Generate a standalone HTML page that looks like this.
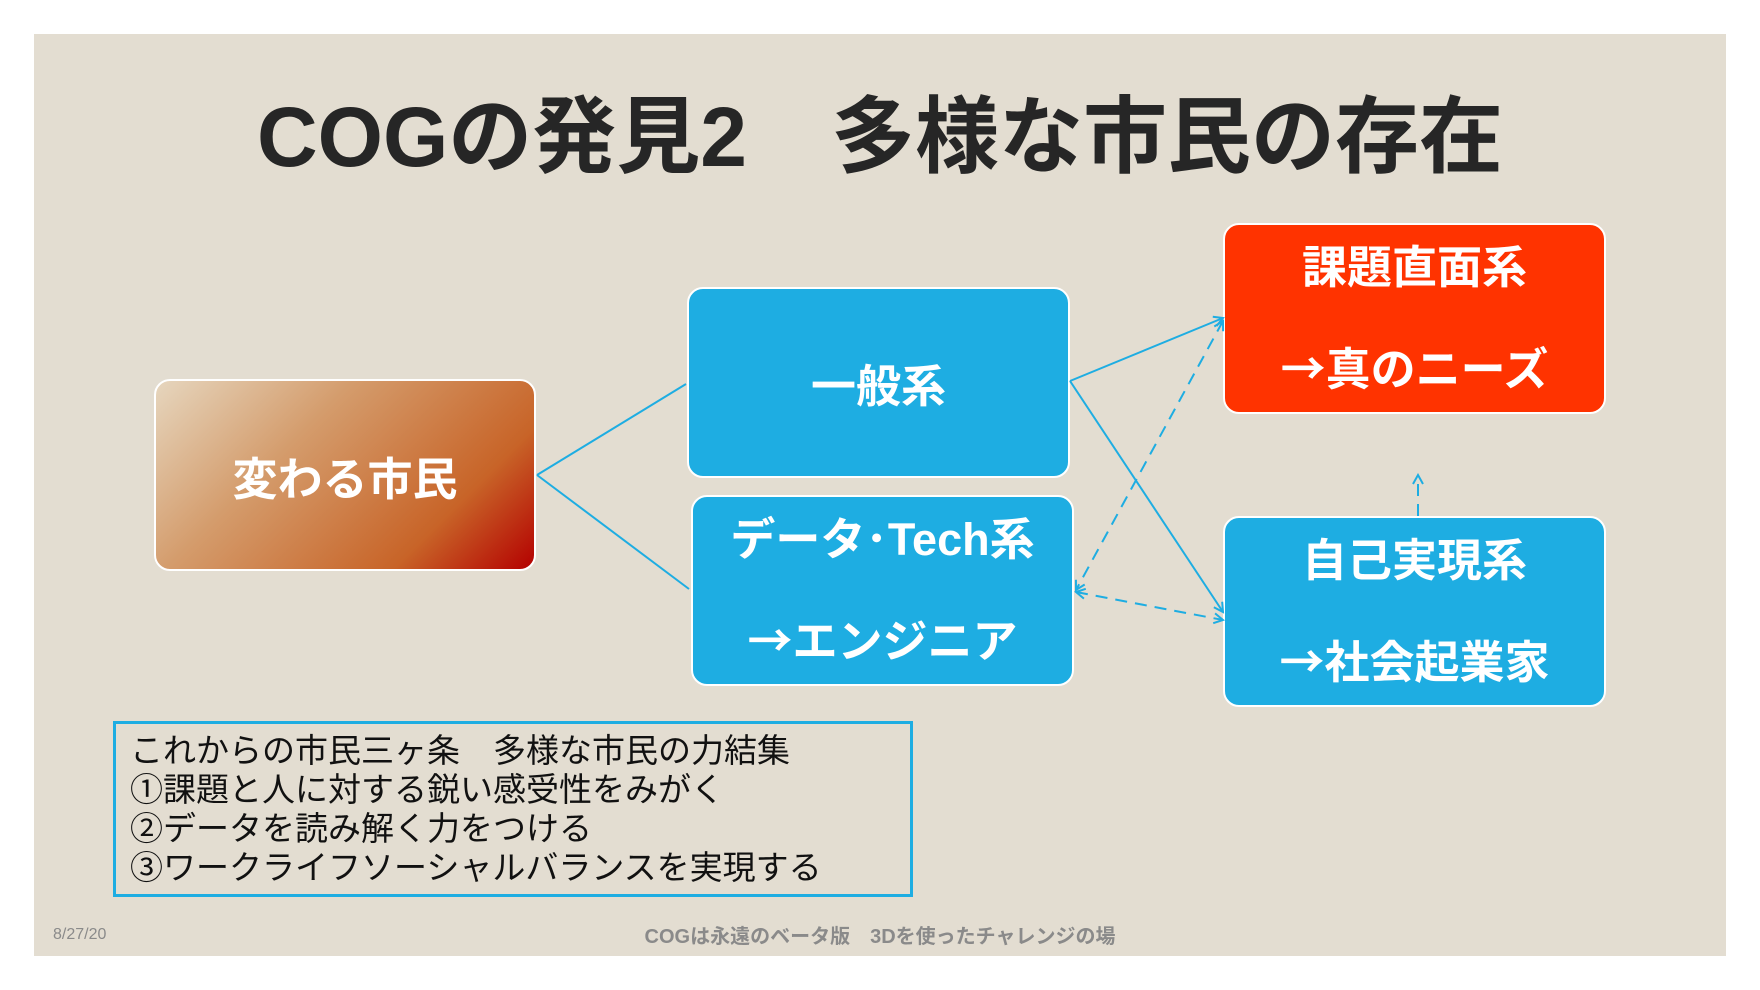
<!DOCTYPE html>
<html><head><meta charset="utf-8"><style>
body{margin:0;width:1760px;height:990px;background:#fff;position:relative;overflow:hidden;font-family:"Liberation Sans","Noto Sans CJK JP",sans-serif}
.slide{position:absolute;left:34px;top:34px;width:1692px;height:922px;background:#E3DDD1}
.box{position:absolute;border:2px solid #fff;border-radius:16px;box-sizing:border-box;color:#fff;font-weight:bold;font-size:45px;display:flex;flex-direction:column;justify-content:center;align-items:center;text-align:center}
.blue{background:#1EADE2}
.t{position:absolute;left:0;width:1760px;text-align:center}
.ar{font-family:"Noto Sans CJK JP",sans-serif}
</style></head><body>
<div class="slide"></div>
<div class="t" style="top:70px;font-size:84px;font-weight:bold;color:#262626">COGの発見2　多様な市民の存在</div>
<div class="box" style="left:154px;top:379px;width:382px;height:192px;background:linear-gradient(135deg,#E6D6BE 0%,#D49C6C 35%,#C86428 75%,#B40000 100%)">変わる市民</div>
<div class="box blue" style="left:687px;top:287px;width:383px;height:191px">一般系</div>
<div class="box blue" style="left:691px;top:495px;width:383px;height:191px;line-height:98px">データ･Tech系<br><span><span class="ar">→</span>エンジニア</span></div>
<div class="box" style="left:1223px;top:223px;width:383px;height:191px;background:#FF3300;line-height:98px">課題直面系<br><span><span class="ar">→</span>真のニーズ</span></div>
<div class="box blue" style="left:1223px;top:516px;width:383px;height:191px;line-height:98px">自己実現系<br><span><span class="ar">→</span>社会起業家</span></div>
<svg style="position:absolute;left:0;top:0" width="1760" height="990">
<defs><marker id="a" markerWidth="12" markerHeight="12" refX="10" refY="6" orient="auto-start-reverse" markerUnits="userSpaceOnUse"><path d="M1,1 L10,6 L1,11" fill="none" stroke="#1EADE2" stroke-width="2"/></marker></defs>
<g stroke="#1EADE2" stroke-width="2" fill="none">
<line x1="537" y1="475" x2="686" y2="384"/>
<line x1="537" y1="475" x2="689" y2="589"/>
<line x1="1070" y1="381" x2="1223" y2="318" marker-end="url(#a)"/>
<line x1="1070" y1="381" x2="1223" y2="612" marker-end="url(#a)"/>
<line x1="1223" y1="321" x2="1076" y2="590" stroke-dasharray="12,8" marker-start="url(#a)" marker-end="url(#a)"/>
<line x1="1076" y1="592" x2="1223" y2="620" stroke-dasharray="12,8" marker-start="url(#a)" marker-end="url(#a)"/>
<line x1="1418" y1="516" x2="1418" y2="475" stroke-dasharray="12,8" marker-end="url(#a)"/>
</g></svg>
<div style="position:absolute;left:113px;top:721px;width:800px;height:176px;border:3px solid #1EADE2;box-sizing:border-box;padding:7px 0 0 14px;font-size:33px;line-height:39px;color:#111">これからの市民三ヶ条　多様な市民の力結集<br>①課題と人に対する鋭い感受性をみがく<br>②データを読み解く力をつける<br>③ワークライフソーシャルバランスを実現する</div>
<div style="position:absolute;left:53px;top:926px;font-size:16px;color:#8a8a8a">8/27/20</div>
<div class="t" style="top:920px;font-size:20px;font-weight:bold;color:#8a8a8a">COGは永遠のベータ版　3Dを使ったチャレンジの場</div>
</body></html>
